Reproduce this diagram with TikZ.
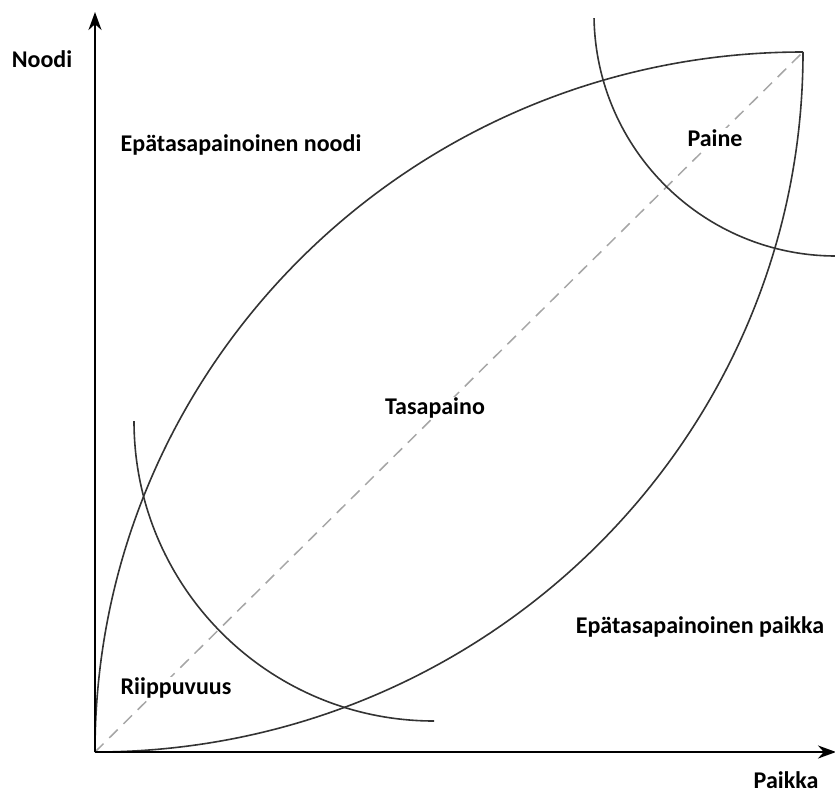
\documentclass[tikz,border=0pt]{standalone}
\usepackage{fontspec}
\setmainfont{Carlito}
\usetikzlibrary{arrows.meta}
\begin{document}
\begin{tikzpicture}[x=1pt,y=-1pt,
  lbl/.style={font=\fontsize{24}{28}\selectfont\bfseries, fill=white, inner sep=1pt},
  axis/.style={line width=2.4pt, -{Stealth[length=18pt,width=13pt]}},
  curve/.style={line width=1.6pt, draw=black!80},
  diag/.style={line width=1.5pt, draw=black!35, dash pattern=on 12pt off 8pt}]
\useasboundingbox (0,0) rectangle (835,796);
\coordinate (O) at (95,752);
\coordinate (T) at (803,52);
\coordinate (Ytop) at (95,12);
\coordinate (Xend) at (836,752);
% dashed diagonal
\draw[diag] (O) -- (T);
% lens curves (quarter ellipses)
\draw[curve] (O) .. controls (95,365) and (412,52) .. (T);
\draw[curve] (O) .. controls (486,752) and (803,439) .. (T);
% arcs
\draw[curve] (434,421) ++(180:300) arc[start angle=180, end angle=90, radius=300];
\draw[curve] (836,14) ++(179:242) arc[start angle=179, end angle=90, radius=242];
% axes
\draw[axis] (O) -- (Ytop);
\draw[axis] (95,752) -- (Xend);
% labels
\node[lbl] (noodi) at (42,59) {Noodi};
\node[lbl, inner sep=0pt] (paikka) at (786,780) {Paikka};
\node[lbl] (enoodi) at (241,145) {Epätasapainoinen noodi};
\node[lbl] (paine) at (715,138) {Paine};
\node[lbl] (tasa) at (435,408) {Tasapaino};
\node[lbl] (riip) at (176,688) {Riippuvuus};
\node[lbl] (epaikka) at (700,627) {Epätasapainoinen paikka};
\end{tikzpicture}
\end{document}
